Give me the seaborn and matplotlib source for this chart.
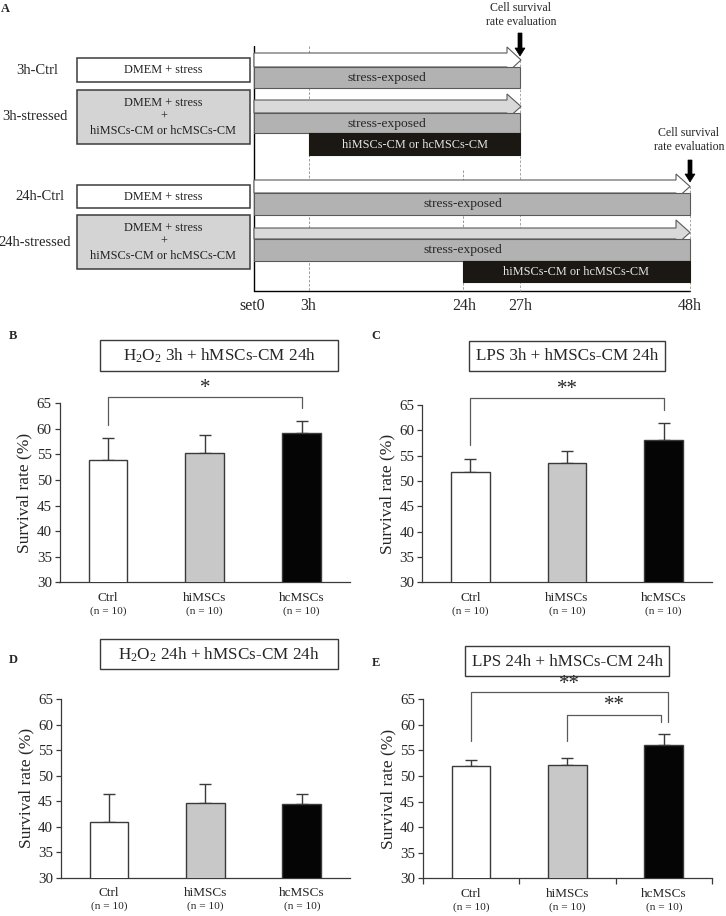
import numpy as np
import pandas as pd
import matplotlib
matplotlib.use("Agg")
import matplotlib.pyplot as plt
import seaborn as sns
from matplotlib.patches import Rectangle, Polygon

# ---------------- data ----------------
groups = ["Ctrl", "hiMSCs", "hcMSCs"]
n_labels = ["(n = 10)", "(n = 10)", "(n = 10)"]
bar_colors = ["#ffffff", "#c8c8c8", "#050505"]

b_mean = [54.0, 55.2, 59.1]
b_err = [4.2, 3.6, 2.5]
c_mean = [51.8, 53.5, 58.0]
c_err = [2.5, 2.5, 3.5]
d_mean = [40.9, 44.6, 44.4]
d_err = [5.5, 3.7, 2.0]
e_mean = [51.9, 52.2, 56.0]
e_err = [1.3, 1.3, 2.3]

panel_titles = [r"H$_\mathrm{2}$O$_\mathrm{2}$ 3h + hMSCs-CM 24h",
                "LPS 3h + hMSCs-CM 24h",
                r"H$_\mathrm{2}$O$_\mathrm{2}$ 24h + hMSCs-CM 24h",
                "LPS 24h + hMSCs-CM 24h"]
panel_letters = ["A", "B", "C", "D", "E"]
y_ticks = [30, 35, 40, 45, 50, 55, 60, 65]
y_label = "Survival rate (%)"

# significance brackets: (x1, x2, y_top, y_left_end, y_right_end, label, label_y)
b_sig = [(0, 2, 66.2, 60.8, 64.0, "*", 67.9)]
c_sig = [(0, 2, 66.4, 57.1, 64.0, "**", 68.0)]
d_sig = []
e_sig = [(0, 2.04, 66.4, 56.9, 60.5, "**", 67.8),
         (1, 1.97, 62.0, 56.9, 60.5, "**", 63.7)]

# schematic (panel A)
row_labels = ["3h-Ctrl", "3h-stressed", "24h-Ctrl", "24h-stressed"]
box_texts = ["DMEM + stress", "DMEM + stress\n+\nhiMSCs-CM or hcMSCs-CM",
             "DMEM + stress", "DMEM + stress\n+\nhiMSCs-CM or hcMSCs-CM"]
time_labels = ["set0", "3h", "24h", "27h", "48h"]
stress_text = "stress-exposed"
cm_text = "hiMSCs-CM or hcMSCs-CM"
eval_text = "Cell survival\nrate evaluation"

# ---------------- style ----------------
sns.set_theme(style="ticks")
plt.rcParams["font.family"] = ["Liberation Serif", "DejaVu Serif"]
plt.rcParams["mathtext.fontset"] = "custom"
plt.rcParams["mathtext.rm"] = "Liberation Serif"
plt.rcParams["mathtext.it"] = "Liberation Serif:italic"
plt.rcParams["mathtext.bf"] = "Liberation Serif:bold"

W, H = 726, 916
fig = plt.figure(figsize=(W / 100, H / 100), dpi=100)

# ---------------- panel A (schematic, pixel coordinates) ----------------
axA = fig.add_axes([0, 1 - 300 / H, 1, 300 / H])
axA.set_xlim(0, W)
axA.set_ylim(300, 0)
axA.axis("off")

EDGE = "#5a5a5a"
GRAY = "#b2b2b2"
LIGHT = "#d9d9d9"
BLACK = "#1b1712"

def block_arrow(ax, x0, xh, xt, bt, bb, ht, hb, fc):
    mid = (ht + hb) / 2
    pts = [(x0, bt), (xh, bt), (xh, ht), (xt, mid), (xh, hb), (xh, bb), (x0, bb)]
    ax.add_patch(Polygon(pts, closed=True, fc=fc, ec=EDGE, lw=0.8, zorder=2))

def rect(ax, x0, y0, x1, y1, fc, ec=EDGE, lw=0.8, z=3):
    ax.add_patch(Rectangle((x0, y0), x1 - x0, y1 - y0, fc=fc, ec=ec, lw=lw, zorder=z))

def down_arrow(ax, x, y0, y1):
    pts = [(x - 2, y0), (x + 2, y0), (x + 2, y1 - 8), (x + 5, y1 - 8), (x, y1),
           (x - 5, y1 - 8), (x - 2, y1 - 8)]
    ax.add_patch(Polygon(pts, closed=True, fc="black", ec="black", lw=0.5, zorder=5))

# guide lines
axA.plot([254, 254], [46, 291], color="black", lw=1, zorder=1)
axA.plot([254, 690], [291, 291], color="black", lw=1, zorder=1)
axA.plot([309, 309], [46, 291], color="#8a8a8a", lw=0.6, ls=(0, (3, 2)), zorder=1)
axA.plot([463, 463], [170, 291], color="#8a8a8a", lw=0.6, ls=(0, (3, 2)), zorder=1)
axA.plot([520, 520], [60, 291], color="#9a9a9a", lw=0.6, ls=(0, (3, 2)), zorder=1)
axA.plot([690, 690], [186, 291], color="#9a9a9a", lw=0.6, ls=(0, (3, 2)), zorder=1)

# row labels and left boxes
row_y = [70, 116, 196, 242]
row_x = [37, 35, 40, 35]
box_y = [(58, 82), (90, 144), (185, 208), (215, 269)]
box_fc = ["white", "#d4d4d4", "white", "#d4d4d4"]
for lab, tx, ty, (y0, y1), fc, bt in zip(row_labels, row_x, row_y, box_y, box_fc, box_texts):
    axA.text(tx, ty, lab, ha="center", va="center", fontsize=10.5)
    rect(axA, 77, y0, 250, y1, fc, ec="#3c3c3c", lw=1.1)
    axA.text(163.5, (y0 + y1) / 2, bt, ha="center", va="center", fontsize=8.8,
             linespacing=1.25, color="#222222", zorder=4)

# 3h rows
block_arrow(axA, 254, 507, 521, 53, 67, 47, 73, "white")
rect(axA, 254, 67, 520, 88, GRAY)
axA.text(387, 78.5, stress_text, ha="center", va="center", fontsize=9.7, zorder=4)
block_arrow(axA, 254, 507, 521, 100, 113, 94, 119, LIGHT)
rect(axA, 254, 113, 520, 133, GRAY)
axA.text(387, 124.5, stress_text, ha="center", va="center", fontsize=9.7, zorder=4)
rect(axA, 309, 133, 520, 155, BLACK, ec=BLACK)
axA.text(415, 145, cm_text, ha="center", va="center", fontsize=8.8, color="#e6e6e6", zorder=4)

# 24h rows
block_arrow(axA, 254, 676, 690, 180, 193, 174, 199, "white")
rect(axA, 254, 193, 690, 215, GRAY)
axA.text(463, 204, stress_text, ha="center", va="center", fontsize=9.7, zorder=4)
block_arrow(axA, 254, 676, 690, 228, 239, 220, 245, LIGHT)
rect(axA, 254, 239, 690, 261, GRAY)
axA.text(463, 250, stress_text, ha="center", va="center", fontsize=9.7, zorder=4)
rect(axA, 463, 261, 690, 282, BLACK, ec=BLACK)
axA.text(576, 272, cm_text, ha="center", va="center", fontsize=8.8, color="#e6e6e6", zorder=4)

# evaluation markers
axA.text(521, 15, eval_text, ha="center", va="center", fontsize=8.6, linespacing=1.3)
down_arrow(axA, 520, 33, 56)
axA.text(689, 140, eval_text, ha="center", va="center", fontsize=8.6, linespacing=1.3)
down_arrow(axA, 690, 160, 182)

# time labels
for lab, tx in zip(time_labels, [252, 308, 464, 520, 690]):
    axA.text(tx, 306, lab, ha="center", va="center", fontsize=11.5)

axA.text(5, 9, panel_letters[0], ha="center", va="center", fontsize=9, fontweight="bold")

# ---------------- bar panels ----------------
def pix_axes(l, r, t, b):
    return fig.add_axes([l / W, 1 - b / H, (r - l) / W, (b - t) / H])

def bar_panel(ax, means, errs, sig, boundary_ticks=False):
    df = pd.DataFrame({"group": groups, "rate": means})
    sns.barplot(data=df, x="group", y="rate", hue="group", palette=bar_colors,
                width=0.4, edgecolor="#3a3a3a", linewidth=1.0, saturation=1,
                legend=False, errorbar=None, ax=ax, zorder=3)
    ax.errorbar(np.arange(len(groups)), means, yerr=[np.zeros(len(errs)), errs],
                fmt="none", ecolor="#3a3a3a", elinewidth=1.0, capsize=4.5,
                capthick=1.0, zorder=2)
    ax.set_ylim(30, 65)
    ax.set_xlim(-0.5, 2.5)
    ax.set_yticks(y_ticks)
    ax.set_yticklabels([str(v) for v in y_ticks], fontsize=10.8)
    ax.set_ylabel(y_label, fontsize=12.5, labelpad=3)
    ax.set_xlabel("")
    ax.set_xticks(range(len(groups)))
    ax.set_xticklabels(groups, fontsize=9.5)
    ax.tick_params(axis="x", length=0, pad=7)
    ax.tick_params(axis="y", length=3.5, width=0.9, color="#3a3a3a", pad=2)
    for i, nl in enumerate(n_labels):
        ax.annotate(nl, xy=(i, 0), xycoords=("data", "axes fraction"),
                    xytext=(0, -20.5), textcoords="offset points",
                    ha="center", va="center", fontsize=8.2)
    if boundary_ticks:
        ax.set_xticks([-0.5, 0.5, 1.5, 2.5], minor=True)
        ax.tick_params(axis="x", which="minor", length=4, width=0.9,
                       color="#3a3a3a", direction="out")
    sns.despine(ax=ax)
    for s in ["left", "bottom"]:
        ax.spines[s].set_color("#3a3a3a")
        ax.spines[s].set_linewidth(0.9)
    for (x1, x2, yt, yl, yr, lab, ly) in sig:
        ax.plot([x1, x1, x2, x2], [yl, yt, yt, yr], color="#5a5a5a", lw=0.9,
                clip_on=False, zorder=4)
        ax.text((x1 + x2) / 2, ly, lab, ha="center", va="center", fontsize=15,
                clip_on=False)
    ax.set_facecolor("white")

axB = pix_axes(59.5, 350, 403.3, 582.3)
bar_panel(axB, b_mean, b_err, b_sig)
axC = pix_axes(422, 712, 405, 582.3)
bar_panel(axC, c_mean, c_err, c_sig)
axD = pix_axes(60.7, 350, 699, 877.7)
bar_panel(axD, d_mean, d_err, d_sig)
axE = pix_axes(422.7, 712, 699.3, 878.3)
bar_panel(axE, e_mean, e_err, e_sig, boundary_ticks=True)

# title boxes
title_boxes = [(100, 338, 340, 371), (469, 665, 341, 371),
               (100, 338, 639, 669), (465, 669, 646, 676)]
for (x0, x1, y0, y1), t in zip(title_boxes, panel_titles):
    fig.add_artist(Rectangle((x0 / W, 1 - y1 / H), (x1 - x0) / W, (y1 - y0) / H,
                             transform=fig.transFigure, fill=False,
                             ec="#3a3a3a", lw=1.0))
    fig.text((x0 + x1) / 2 / W, 1 - ((y0 + y1) / 2 + 0.5) / H, t,
             ha="center", va="center", fontsize=12.3)

# panel letters
for lab, (px, py) in zip(panel_letters[1:], [(13, 336), (376, 336), (13, 660), (376, 663)]):
    fig.text(px / W, 1 - py / H, lab, ha="center", va="center",
             fontsize=9, fontweight="bold")

fig.savefig("out.png", dpi=100, facecolor="white")
